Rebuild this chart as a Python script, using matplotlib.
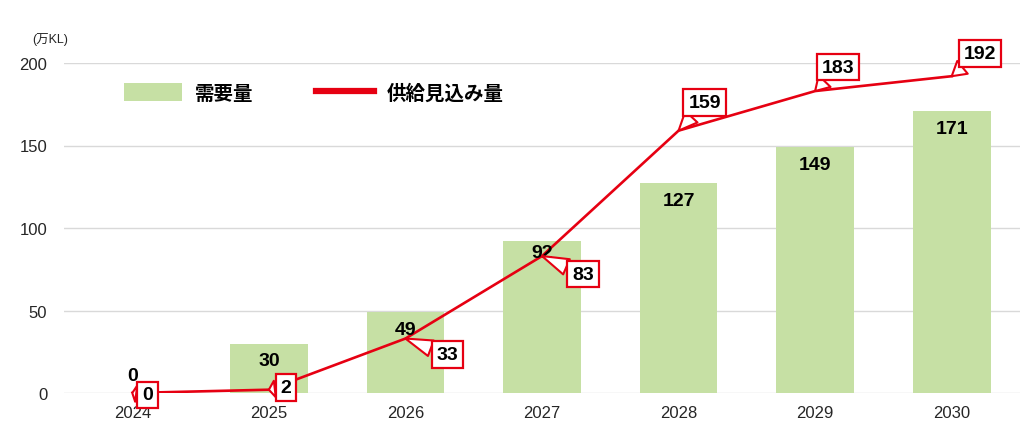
import matplotlib
matplotlib.use("Agg")
import matplotlib.pyplot as plt
from matplotlib.patches import Patch
from matplotlib.lines import Line2D

years = ["2024", "2025", "2026", "2027", "2028", "2029", "2030"]
demand = [0, 30, 49, 92, 127, 149, 171]
supply = [0, 2, 33, 83, 159, 183, 192]
yticks = [0, 50, 100, 150, 200]
legend_labels = ["需要量", "供給見込み量"]
unit_label = "(万KL)"

FAM = ["Liberation Sans", "Noto Sans CJK JP", "DejaVu Sans"]
plt.rcParams['font.family'] = FAM

BAR_C = "#c6e0a4"
RED = "#e60012"

fig = plt.figure(figsize=(10.24, 4.35), dpi=100)
ax = fig.add_axes([64/1024, 41/435, 956/1024, 330/435])

x = list(range(len(years)))
ax.bar(x, demand, width=0.57, color=BAR_C, zorder=2)
ax.plot(x, supply, color=RED, lw=1.9, zorder=3)

ax.set_xlim(-0.5, len(years) - 0.5)
ax.set_ylim(0, 200)
ax.set_yticks(yticks)
ax.set_xticks(x)
ax.set_xticklabels(years)
ax.tick_params(axis='both', length=0, labelsize=12, colors="#262626")
ax.tick_params(axis='y', pad=12)
ax.tick_params(axis='x', pad=9)
ax.grid(axis='y', color="#d9d9d9", lw=1, zorder=0)
for s in ax.spines.values():
    s.set_visible(False)

# bar labels (pixel offsets from bar top)
bar_offs = [17, -17, -17, -11, -17, -17, -18]
for i, v in enumerate(demand):
    ax.annotate(str(v), (i, v), xytext=(0, bar_offs[i]), textcoords='offset pixels',
                ha='center', va='center', fontsize=14, fontweight='bold', zorder=5)

# callout offsets (pixels) for supply labels
offs = [(15, -2), (17, 2), (42, -16), (41, -18), (26, 28), (23, 24), (28, 23)]
for i, v in enumerate(supply):
    dx, dy = offs[i]
    ax.annotate(str(v), (i, v), xytext=(dx, dy), textcoords='offset pixels',
                ha='center', va='center', fontsize=14, fontweight='bold', zorder=6,
                annotation_clip=False,
                bbox=dict(boxstyle='square,pad=0.25', fc='white', ec=RED, lw=1.6),
                arrowprops=dict(arrowstyle='wedge,tail_width=0.85,shrink_factor=0.5',
                                fc='white', ec=RED, lw=1.5, shrinkA=0, shrinkB=0))

handles = [Patch(facecolor=BAR_C, edgecolor='none'),
           Line2D([0], [0], color=RED, lw=4.5)]
leg = ax.legend(handles, legend_labels, loc='center left',
                bbox_to_anchor=((124 - 64) / 956, (394 - 94) / 330),
                ncol=2, frameon=False, borderpad=0, borderaxespad=0,
                handlelength=3.0, handleheight=1.0, handletextpad=0.65,
                columnspacing=3.2,
                prop=dict(family=["Noto Sans CJK JP", "DejaVu Sans"], weight='bold', size=14))

fig.text(50/1024, 1 - 40/435, unit_label, ha='center', va='center', fontsize=9, color="#262626")

fig.savefig("out.png", dpi=100)
